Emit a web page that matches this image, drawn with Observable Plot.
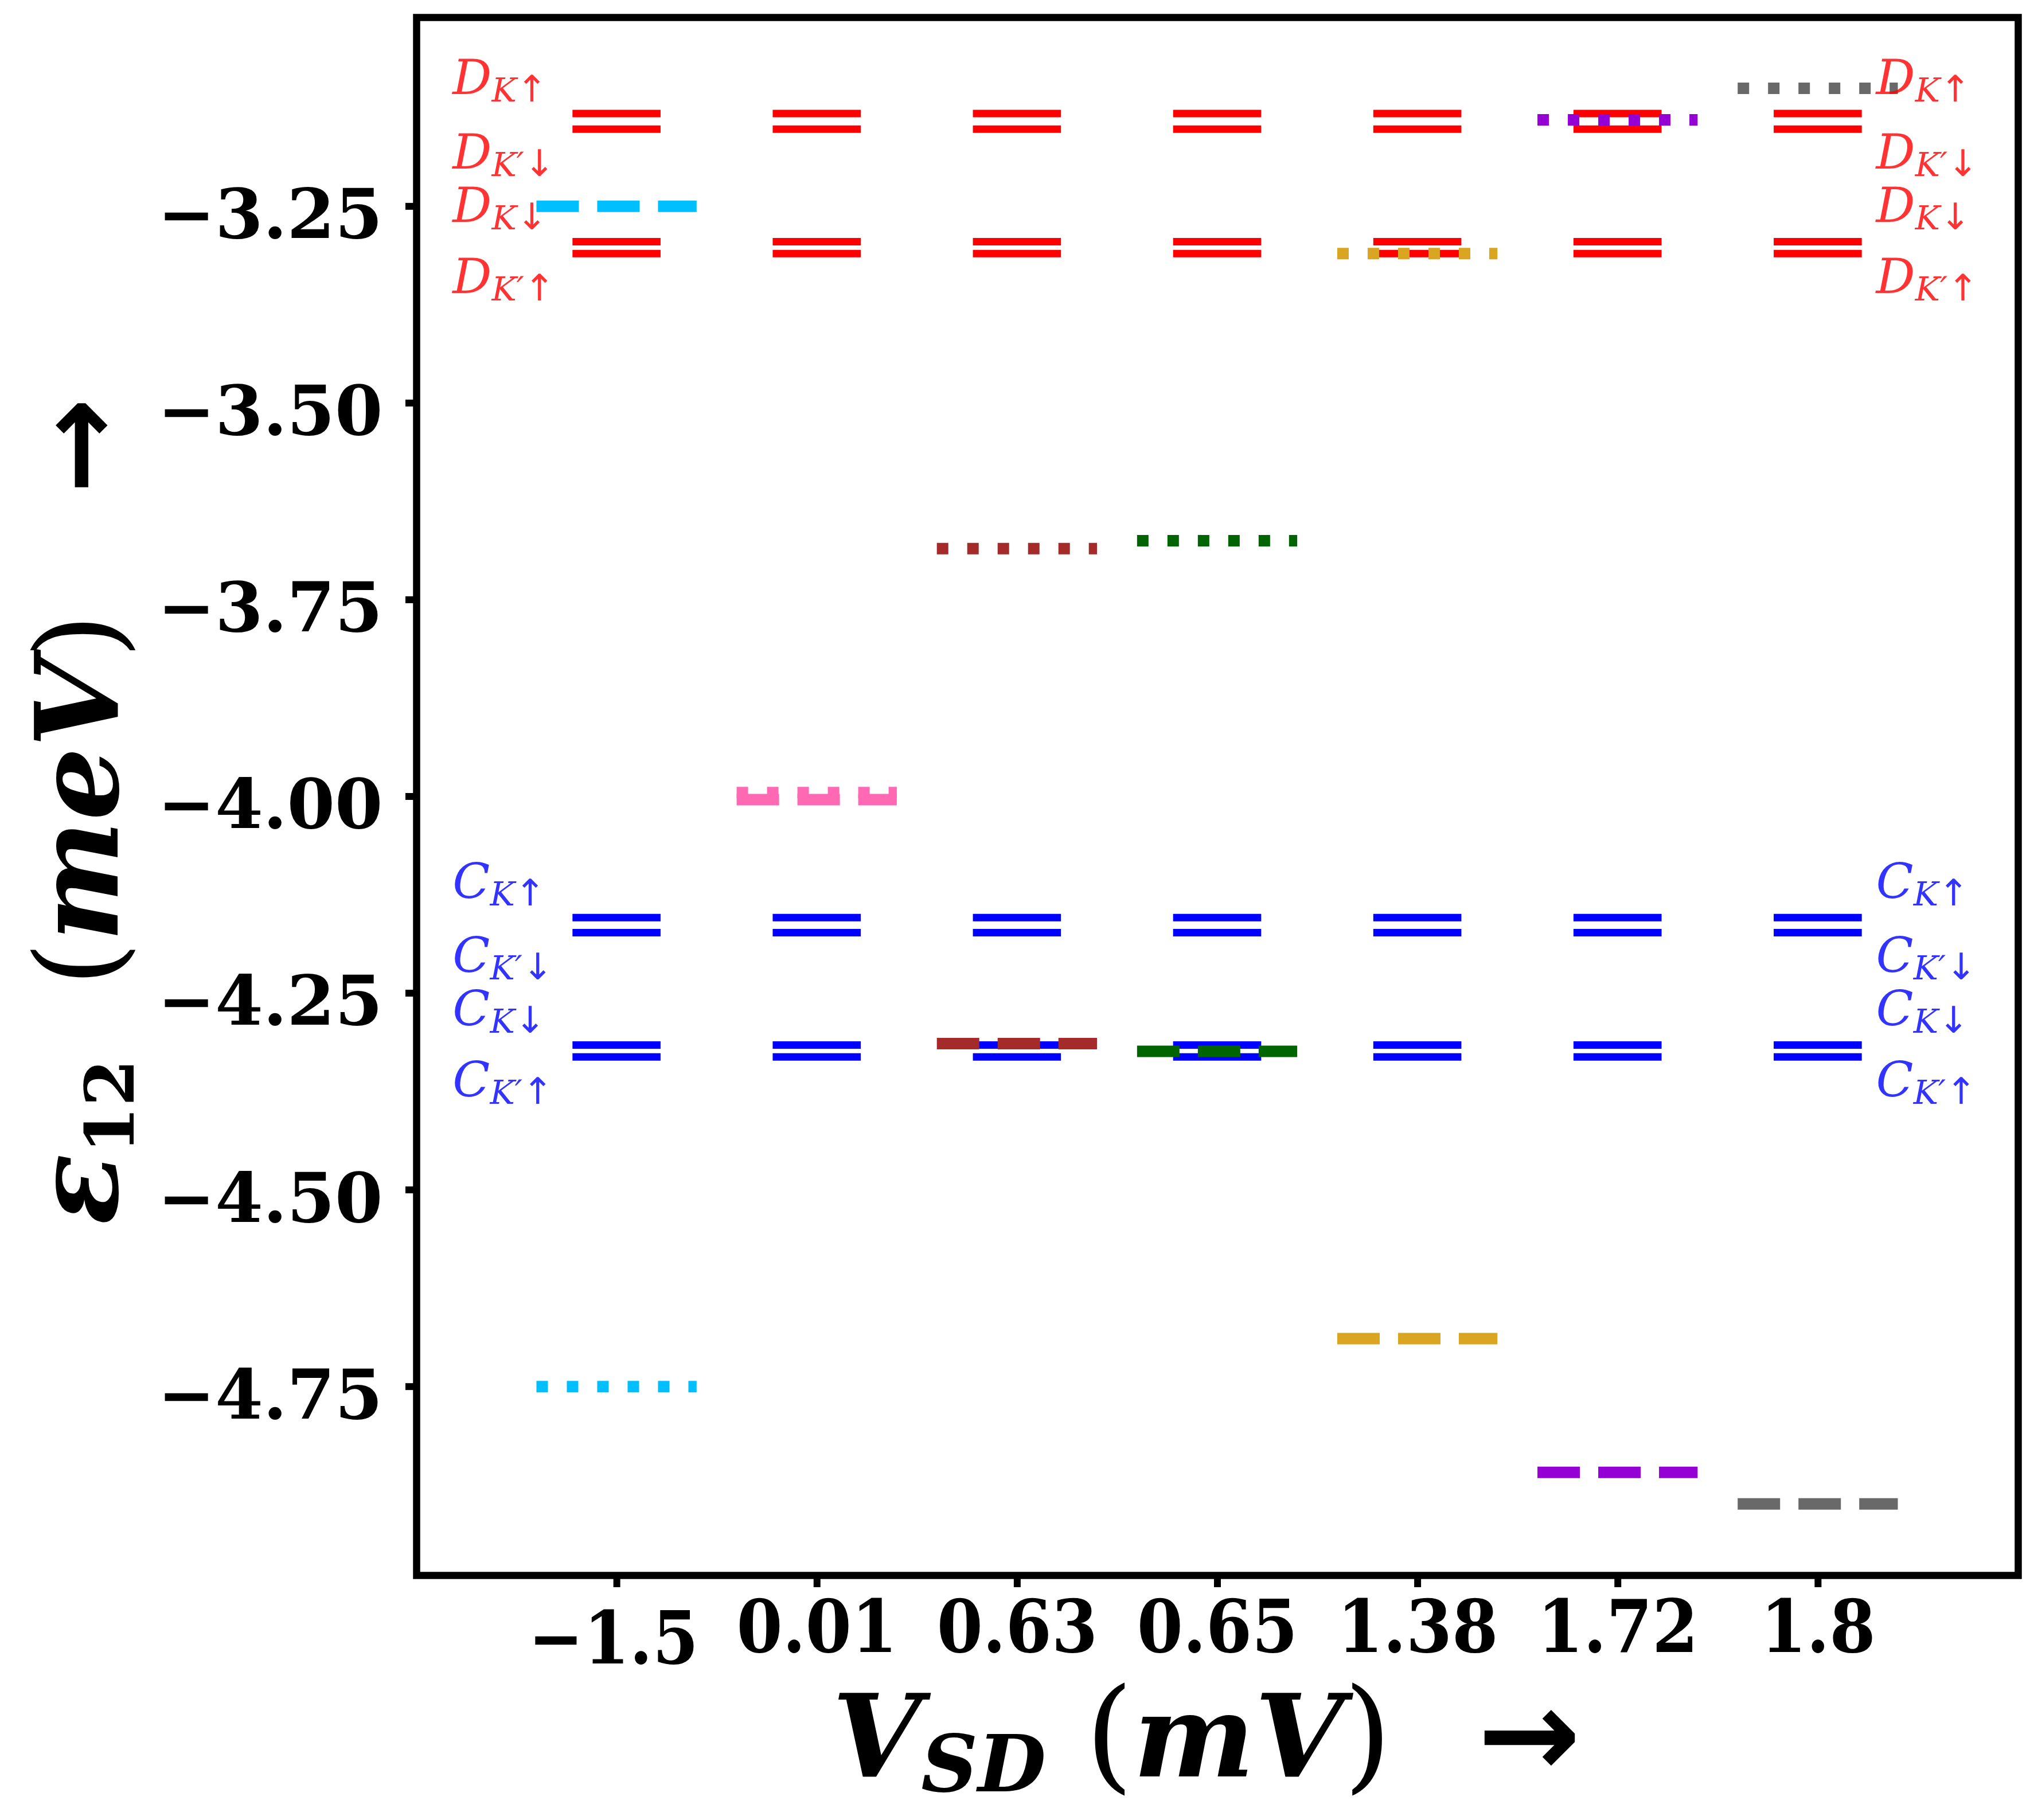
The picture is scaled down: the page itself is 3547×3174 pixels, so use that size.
<!DOCTYPE html>
<html><head><meta charset="utf-8">
<script src="https://cdn.jsdelivr.net/npm/d3@7"></script>
<script src="https://cdn.jsdelivr.net/npm/@observablehq/plot@0.6"></script>
<style>html,body{margin:0;padding:0;background:#fff} svg{display:block}</style>
</head><body><div id="chart"></div>
<script>
// ---- data ----
const vsdLabels = ["−1.5", "0.01", "0.63", "0.65", "1.38", "1.72", "1.8"];
const dLevels = [-3.132, -3.152, -3.295, -3.310];   // D_K↑, D_K'↓, D_K↓, D_K'↑
const cLevels = [-4.154, -4.173, -4.316, -4.331];   // C_K↑, C_K'↓, C_K↓, C_K'↑
const stateSubs = ["K↑", "K′↓", "K↓", "K′↑"];
const seriesColors = ["deepskyblue", "hotpink", "brown", "darkgreen", "goldenrod", "darkviolet", "dimgray"];
const dashedLevels = [-3.25, -4.004, -4.314, -4.324, -4.689, -4.859, -4.899];
const dottedLevels = [-4.75, -3.995, -3.685, -3.675, -3.31, -3.14, -3.10];
const yTicks = [-4.75, -4.5, -4.25, -4.0, -3.75, -3.5, -3.25];

// ---- derived tables ----
const cols = d3.range(vsdLabels.length);
const bandLines = cols.flatMap(i => [
  ...dLevels.map(e => ({i, e, band: "D"})),
  ...cLevels.map(e => ({i, e, band: "C"}))
]);
const dashed = cols.map(i => ({i, e: dashedLevels[i], color: seriesColors[i]}));
const dotted = cols.map(i => ({i, e: dottedLevels[i], color: seriesColors[i]}));
const stateLabels = [];
for (const band of ["D", "C"]) {
  const lv = band === "D" ? dLevels : cLevels;
  lv.forEach((e, k) => {
    for (const side of ["L", "R"]) stateLabels.push({band, sub: stateSubs[k], e, upper: k % 2 === 0, side});
  });
}

const HW_LEVEL = 0.22, HW_SERIES = 0.4;
const bandColor = b => b === "D" ? "red" : "blue";
const fmtY = d => (d < 0 ? "−" : "") + Math.abs(d).toFixed(2);

const plot = Plot.plot({
  width: 3547, height: 3174,
  marginLeft: 726, marginRight: 28, marginTop: 30, marginBottom: 427,
  style: {fontFamily: "DejaVu Serif", background: "white", color: "black", overflow: "visible"},
  x: {domain: [-1, 7]},
  y: {domain: [-4.99, -3.01]},
  marks: [
    Plot.ruleY(bandLines, {y: "e", x1: d => d.i - HW_LEVEL, x2: d => d.i + HW_LEVEL,
      stroke: d => bandColor(d.band), strokeWidth: 13}),
    Plot.ruleY(dotted, {y: "e", x1: d => d.i - HW_SERIES, x2: d => d.i + HW_SERIES,
      stroke: "color", strokeWidth: 20, strokeDasharray: "20,33"}),
    Plot.ruleY(dashed, {y: "e", x1: d => d.i - HW_SERIES, x2: d => d.i + HW_SERIES,
      stroke: "color", strokeWidth: 20, strokeDasharray: "74,32"}),
    Plot.text(stateLabels, {
      x: d => d.side === "L" ? -0.82 : 6.29,
      y: d => d.e + (d.upper ? 0.025 : -0.05),
      text: d => d.band + "|" + d.sub,
      textAnchor: "start", lineAnchor: "bottom",
      fill: d => bandColor(d.band), fillOpacity: 0.8,
      fontSize: 85, fontStyle: "italic"
    }),
    // x ticks
    Plot.axisX(cols, {tickSize: 21, strokeWidth: 12, fill: "none", label: null}),
    Plot.axisX(cols.slice(1), {tickFormat: i => vsdLabels[i], tickSize: 21, tickPadding: 22,
      stroke: "none", fontSize: 128, fontWeight: "bold", label: null}),
    Plot.axisX([0], {tickFormat: i => vsdLabels[i], tickSize: 21, tickPadding: 22, dy: 20, dx: -6,
      stroke: "none", fontSize: 128, fontWeight: "bold", label: null}),
    // y ticks
    Plot.axisY(yTicks, {tickSize: 19, strokeWidth: 12, fill: "none", label: null}),
    Plot.axisY(yTicks, {tickFormat: fmtY, tickSize: 19, tickPadding: 40, dy: 17,
      stroke: "none", fontSize: 120, fontWeight: "bold", label: null}),
    Plot.frame({stroke: "black", strokeWidth: 12.5}),
    // axis titles
    Plot.text(["ε|12|(meV)|→"], {frameAnchor: "left", rotate: -90, dx: -522, dy: 26,
      lineAnchor: "bottom", textAnchor: "middle", fontSize: 200, fontWeight: "bold", fontStyle: "italic"}),
    Plot.text(["V|SD|(mV)|→"], {frameAnchor: "bottom", dx: -19, dy: 350,
      lineAnchor: "bottom", textAnchor: "middle", fontSize: 200, fontWeight: "bold", fontStyle: "italic"})
  ]
});

// ---- rich text (subscripts) ----
const NS = "http://www.w3.org/2000/svg";
function tspan(parent, txt, attrs) {
  const t = document.createElementNS(NS, "tspan");
  t.textContent = txt;
  for (const k in attrs) t.setAttribute(k, attrs[k]);
  parent.appendChild(t);
  return t;
}
d3.select(plot).selectAll("text").each(function() {
  const s = this.textContent;
  if (!s.includes("|")) return;
  const parts = s.split("|");
  this.textContent = "";
  if (parts.length === 2) {
    // state label e.g. D|K′↑
    const [main, sub] = parts;
    tspan(this, main, {"font-size": 85});
    tspan(this, sub.slice(0, -1), {"font-size": 58, dy: 13});
    tspan(this, sub.slice(-1), {"font-size": 64, "font-style": "normal", "font-family": "DejaVu Sans", "font-weight": "normal"});
  } else if (parts[0] === "ε") {
    tspan(this, "ε", {"font-size": 205});
    tspan(this, "12", {"font-size": 118, dy: 28, "font-style": "normal"});
    tspan(this, "  (", {"font-size": 200, dy: -28, "font-style": "normal", "font-weight": "normal"});
    tspan(this, "meV", {"font-size": 200});
    tspan(this, ")", {"font-size": 200, "font-style": "normal", "font-weight": "normal"});
    tspan(this, "   →", {"font-size": 200, "font-style": "normal", "font-family": "DejaVu Sans"});
  } else {
    tspan(this, "V", {"font-size": 200});
    tspan(this, "SD", {"font-size": 137, dy: 26});
    tspan(this, " (", {"font-size": 215, dy: -26, "font-style": "normal", "font-weight": "normal"});
    tspan(this, "mV", {"font-size": 200});
    tspan(this, ")", {"font-size": 215, "font-style": "normal", "font-weight": "normal"});
    tspan(this, "  →", {"font-size": 215, "font-style": "normal", "font-family": "DejaVu Sans"});
  }
});
d3.select(plot).selectAll('g[aria-label="x-axis tick label"] text').style("font-stretch", "condensed");
document.getElementById("chart").appendChild(plot);
</script>
</body></html>
